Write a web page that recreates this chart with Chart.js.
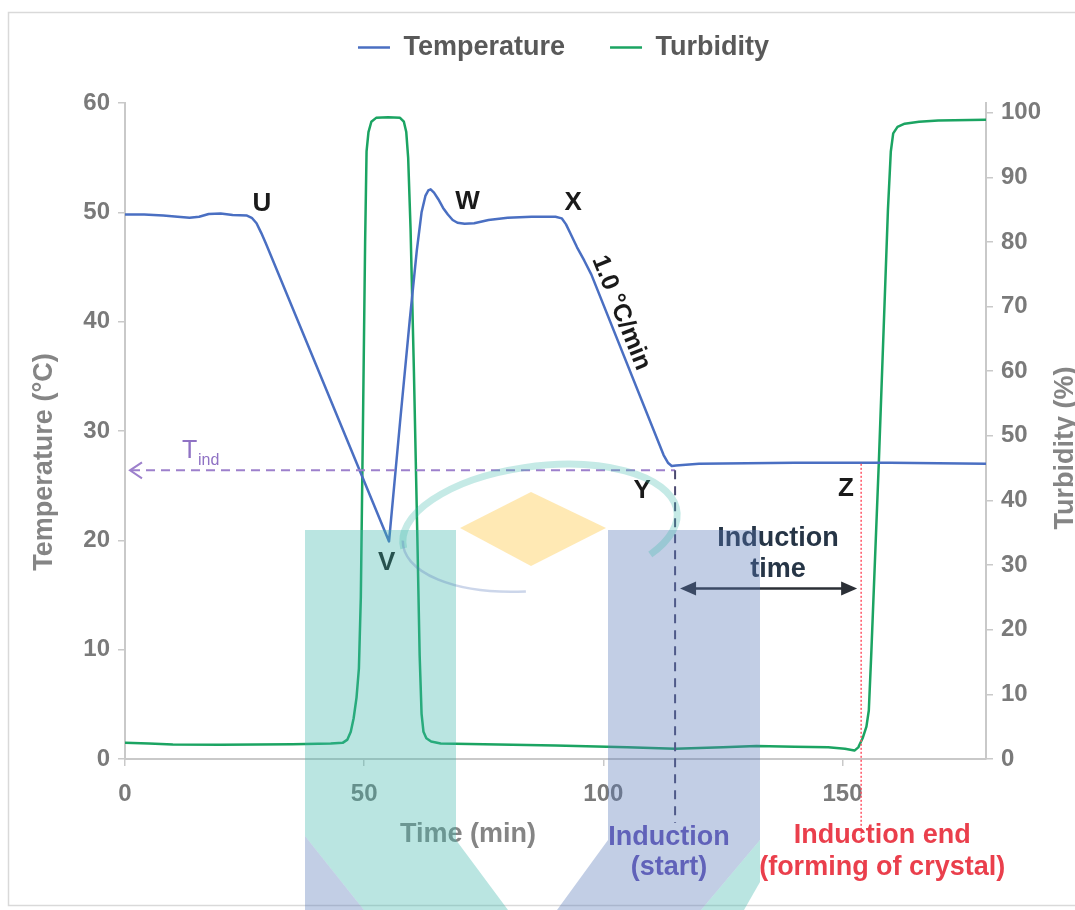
<!DOCTYPE html>
<html>
<head>
<meta charset="utf-8">
<title>Induction time</title>
<script src="https://cdn.jsdelivr.net/npm/chart.js@4.4.1/dist/chart.umd.min.js"></script>
<style>
  html, body { margin: 0; padding: 0; background: #fff; }
  canvas { display: block; }
</style>
</head>
<body>
<canvas id="induction-chart" width="1075" height="910"></canvas>
<script>
'use strict';

// temperature run, time in min and reading in °C
var tempTime = [0, 4, 8, 11, 13.5, 15.5, 17.5, 20, 22.5, 25.5, 26.5, 27.5, 28.5, 29.5, 40, 55.2,
  57.5, 59.5, 61, 62, 62.8, 63.4, 63.9, 64.6, 65.5, 66.5, 67.5, 68.5, 69.5, 71, 73, 76, 80, 85, 90,
  91.3, 92.2, 93.2, 94.5, 96, 97.5, 112.6, 113.5, 114.3, 115.2, 120, 140, 160, 180];
var tempValues = [49.8, 49.8, 49.7, 49.6, 49.5, 49.6, 49.85, 49.9, 49.75, 49.7, 49.5, 49.0, 48.1, 47.1, 36.0, 19.9,
  30.8, 40.0, 46.5, 50.0, 51.5, 52.0, 52.1, 51.8, 51.2, 50.4, 49.8, 49.3, 49.05, 48.95, 49.0, 49.3, 49.5, 49.6, 49.6,
  49.45, 48.9, 48.0, 46.8, 45.6, 44.3, 27.8, 27.1, 26.8, 26.85, 27.0, 27.1, 27.1, 27.0];

// turbidity run, time in min and reading in %
var turbTime = [0, 5, 10, 20, 35, 43, 45.5, 46.5, 47.2, 47.8, 48.4, 48.9, 49.3, 49.8, 50.2, 50.5, 50.9, 51.5, 52.5,
  55, 57.5, 58.3, 58.8, 59.2, 59.7, 60.4, 61.1, 61.6, 62, 62.4, 63, 64, 66, 75, 90, 105, 115, 125, 132, 140, 147,
  150.5, 152.5, 153.3, 154.2, 155, 155.5, 156, 157.6, 159.5, 160.1, 160.6, 161.5, 163, 166, 170, 180];
var turbValues = [2.5, 2.4, 2.25, 2.2, 2.3, 2.4, 2.5, 3.0, 4.2, 6.3, 9.5, 14, 25, 55, 80, 94, 97, 98.6, 99.2,
  99.3, 99.2, 98.6, 97, 93, 82, 60, 35, 16, 7, 4.2, 3.2, 2.7, 2.4, 2.3, 2.1, 1.8, 1.6, 1.8, 2.0, 1.9, 1.8,
  1.6, 1.3, 1.8, 3.2, 5.0, 7.5, 16, 46, 85, 94, 96.8, 97.8, 98.3, 98.6, 98.8, 98.9];

var timeTicks = [0, 50, 100, 150];
var tempTicks = [0, 10, 20, 30, 40, 50, 60];
var turbTicks = [0, 10, 20, 30, 40, 50, 60, 70, 80, 90, 100];

// stages of the run (time, °C where the letter sits)
var stageNames = ['U', 'V', 'W', 'X', 'Y', 'Z'];
var stageTime = [28.6, 54.7, 71.6, 93.7, 108.1, 150.7];
var stageTemp = [50.8, 17.9, 51.0, 50.9, 24.5, 24.7];

var inductionStart = 115;   // min
var inductionEnd = 153.9;   // min
var tInd = 26.4;            // °C
var coolingRate = '1.0 °C/min';

var FONT = "'Liberation Sans', Arial, sans-serif";
Chart.defaults.font.family = FONT;

function pts(xs, ys) {
  return xs.map(function(t, i) { return { x: t, y: ys[i] }; });
}

function poly(ctx, p) {
  ctx.beginPath();
  ctx.moveTo(p[0][0], p[0][1]);
  for (var i = 1; i < p.length; i++) ctx.lineTo(p[i][0], p[i][1]);
  ctx.closePath();
  ctx.fill();
}

// extra room under the legend
var legendGap = {
  id: 'legendGap',
  beforeInit: function(chart) {
    var fit = chart.legend.fit;
    chart.legend.fit = function() {
      fit.bind(chart.legend)();
      this.height += 32;
    };
  }
};

var notes = {
  id: 'notes',
  beforeDraw: function(chart) {
    var ctx = chart.ctx;
    ctx.save();
    ctx.fillStyle = '#fff';
    ctx.fillRect(0, 0, chart.width, chart.height);
    ctx.strokeStyle = '#d9d9d9';
    ctx.lineWidth = 1.5;
    ctx.strokeRect(8.5, 12.5, chart.width + 10, chart.height - 17);
    ctx.restore();
  },
  afterDatasetsDraw: function(chart) {
    var ctx = chart.ctx, area = chart.chartArea;
    var x = chart.scales.x, y = chart.scales.y;
    var yInd = y.getPixelForValue(tInd);
    var xStart = x.getPixelForValue(inductionStart);
    var xEnd = x.getPixelForValue(inductionEnd);

    ctx.save();
    // T_ind guide back to the temperature axis
    ctx.strokeStyle = '#9d80cc';
    ctx.lineWidth = 2;
    ctx.setLineDash([9, 6]);
    ctx.beginPath();
    ctx.moveTo(area.left + 6, yInd);
    ctx.lineTo(xStart, yInd);
    ctx.stroke();
    ctx.setLineDash([]);
    ctx.beginPath();
    ctx.moveTo(area.left + 17, yInd - 8);
    ctx.lineTo(area.left + 5, yInd);
    ctx.lineTo(area.left + 17, yInd + 8);
    ctx.stroke();

    // start of induction
    ctx.strokeStyle = '#4c4a70';
    ctx.lineWidth = 2;
    ctx.setLineDash([9, 7]);
    ctx.beginPath();
    ctx.moveTo(xStart, yInd);
    ctx.lineTo(xStart, area.bottom + 64);
    ctx.stroke();

    // end of induction
    ctx.strokeStyle = '#ff5566';
    ctx.lineWidth = 1.5;
    ctx.setLineDash([2, 2]);
    ctx.beginPath();
    ctx.moveTo(xEnd, y.getPixelForValue(27));
    ctx.lineTo(xEnd, area.bottom + 82);
    ctx.stroke();
    ctx.setLineDash([]);

    // induction time arrow
    var ya = y.getPixelForValue(15.6);
    var a0 = xStart + 5, a1 = xEnd - 4;
    ctx.strokeStyle = '#2b2f36';
    ctx.fillStyle = '#2b2f36';
    ctx.lineWidth = 2.5;
    ctx.beginPath();
    ctx.moveTo(a0 + 10, ya);
    ctx.lineTo(a1 - 10, ya);
    ctx.stroke();
    poly(ctx, [[a0, ya], [a0 + 16, ya - 7], [a0 + 16, ya + 7]]);
    poly(ctx, [[a1, ya], [a1 - 16, ya - 7], [a1 - 16, ya + 7]]);

    ctx.textAlign = 'center';
    ctx.textBaseline = 'middle';

    // stage letters
    ctx.fillStyle = '#1a1a1a';
    ctx.font = 'bold 26px ' + FONT;
    stageNames.forEach(function(n, i) {
      ctx.fillText(n, x.getPixelForValue(stageTime[i]), y.getPixelForValue(stageTemp[i]));
    });

    ctx.fillStyle = '#263546';
    ctx.font = 'bold 27px ' + FONT;
    ctx.fillText('Induction', x.getPixelForValue(136.5), y.getPixelForValue(20.2));
    ctx.fillText('time', x.getPixelForValue(136.5), y.getPixelForValue(17.3));

    // cooling ramp label, laid along the line
    ctx.save();
    ctx.translate(x.getPixelForValue(103.7), y.getPixelForValue(40.8));
    ctx.rotate(68 * Math.PI / 180);
    ctx.fillStyle = '#1a1a1a';
    ctx.font = 'bold 25px ' + FONT;
    ctx.fillText(coolingRate, 0, 0);
    ctx.restore();

    // T_ind label
    ctx.fillStyle = '#8f72c4';
    ctx.textAlign = 'left';
    ctx.font = '25px ' + FONT;
    ctx.fillText('T', area.left + 57, yInd - 19);
    ctx.font = '16px ' + FONT;
    ctx.fillText('ind', area.left + 73, yInd - 10);

    // axis titles
    ctx.fillStyle = '#858585';
    ctx.textAlign = 'center';
    ctx.font = 'bold 27px ' + FONT;
    ctx.fillText('Time (min)', 468, area.bottom + 76);
    ctx.save();
    ctx.translate(45, 462);
    ctx.rotate(-Math.PI / 2);
    ctx.fillText('Temperature (°C)', 0, 0);
    ctx.restore();
    ctx.save();
    ctx.translate(1066, 448);
    ctx.rotate(-Math.PI / 2);
    ctx.fillText('Turbidity (%)', 0, 0);
    ctx.restore();

    // captions under the time axis
    ctx.font = 'bold 27px ' + FONT;
    ctx.fillStyle = '#6656bb';
    ctx.fillText('Induction', xStart - 6, area.bottom + 79);
    ctx.fillText('(start)', xStart - 6, area.bottom + 109);
    ctx.fillStyle = '#ea3f4c';
    ctx.fillText('Induction end', xEnd + 21, area.bottom + 77);
    ctx.fillText('(forming of crystal)', xEnd + 21, area.bottom + 109);
    ctx.restore();
  },
  afterDraw: function(chart) {
    // faint logo stamp over the plot
    var ctx = chart.ctx;
    var teal = '#3fb8ad', slate = '#5676b8';
    ctx.save();
    ctx.globalAlpha = 0.36;
    ctx.fillStyle = teal;
    poly(ctx, [[305, 530], [456, 530], [456, 840], [508, 910], [364, 910], [305, 836]]);
    poly(ctx, [[760, 840], [760, 882], [744, 910], [701, 910]]);
    ctx.fillStyle = slate;
    poly(ctx, [[305, 836], [364, 910], [305, 910]]);
    poly(ctx, [[608, 530], [760, 530], [760, 840], [701, 910], [557, 910], [608, 840]]);
    ctx.globalAlpha = 0.5;
    ctx.fillStyle = '#ffd46a';
    poly(ctx, [[460, 528], [531, 492], [606, 528], [531, 566]]);
    ctx.globalAlpha = 0.3;
    ctx.strokeStyle = teal;
    ctx.lineWidth = 7;
    ctx.beginPath();
    ctx.ellipse(540, 528, 138, 62, -0.12, Math.PI * 0.98, Math.PI * 2.22);
    ctx.stroke();
    ctx.strokeStyle = slate;
    ctx.lineWidth = 2.5;
    ctx.beginPath();
    ctx.ellipse(540, 528, 138, 62, -0.12, Math.PI * 0.55, Math.PI * 1.02);
    ctx.stroke();
    ctx.restore();
  }
};

var canvas = document.getElementById('induction-chart');
new Chart(canvas.getContext('2d'), {
  type: 'line',
  data: {
    datasets: [
      {
        label: 'Temperature',
        data: pts(tempTime, tempValues),
        borderColor: '#4a6fc2',
        backgroundColor: '#4a6fc2',
        borderWidth: 2.5,
        borderJoinStyle: 'round',
        pointRadius: 0,
        yAxisID: 'y'
      },
      {
        label: 'Turbidity',
        data: pts(turbTime, turbValues),
        borderColor: '#1ba462',
        backgroundColor: '#1ba462',
        borderWidth: 2.5,
        borderJoinStyle: 'round',
        pointRadius: 0,
        yAxisID: 'y1'
      }
    ]
  },
  options: {
    responsive: false,
    animation: false,
    layout: { padding: { top: -11, left: 52, right: 0, bottom: 0 } },
    plugins: {
      tooltip: { enabled: false },
      legend: {
        position: 'top',
        labels: {
          usePointStyle: true,
          pointStyle: 'line',
          pointStyleWidth: 32,
          padding: 45,
          color: '#595959',
          font: { size: 27, weight: 'bold' }
        }
      }
    },
    scales: {
      x: {
        type: 'linear',
        min: 0,
        max: 180,
        afterBuildTicks: function(s) { s.ticks = timeTicks.map(function(v) { return { value: v }; }); },
        afterFit: function(s) { s.height = 151; },
        grid: { drawOnChartArea: false, tickLength: 7, color: '#c9c9c9', lineWidth: 1.5 },
        border: { color: '#c9c9c9', width: 2 },
        ticks: { color: '#7a7a7a', padding: 14, maxRotation: 0, font: { size: 24, weight: 'bold' } }
      },
      y: {
        position: 'left',
        min: 0,
        max: 60,
        afterBuildTicks: function(s) { s.ticks = tempTicks.map(function(v) { return { value: v }; }); },
        afterFit: function(s) { s.width = 73; },
        grid: { drawOnChartArea: false, tickLength: 7, color: '#c9c9c9', lineWidth: 1.5 },
        border: { color: '#c9c9c9', width: 2 },
        ticks: { color: '#7a7a7a', padding: 8, font: { size: 24, weight: 'bold' } }
      },
      y1: {
        position: 'right',
        min: 0,
        max: 101.5,
        afterBuildTicks: function(s) { s.ticks = turbTicks.map(function(v) { return { value: v }; }); },
        afterFit: function(s) { s.width = 89; },
        grid: { drawOnChartArea: false, tickLength: 7, color: '#c9c9c9', lineWidth: 1.5 },
        border: { color: '#c9c9c9', width: 2 },
        ticks: { color: '#7a7a7a', padding: 8, font: { size: 24, weight: 'bold' } }
      }
    }
  },
  plugins: [legendGap, notes]
});
</script>
</body>
</html>
